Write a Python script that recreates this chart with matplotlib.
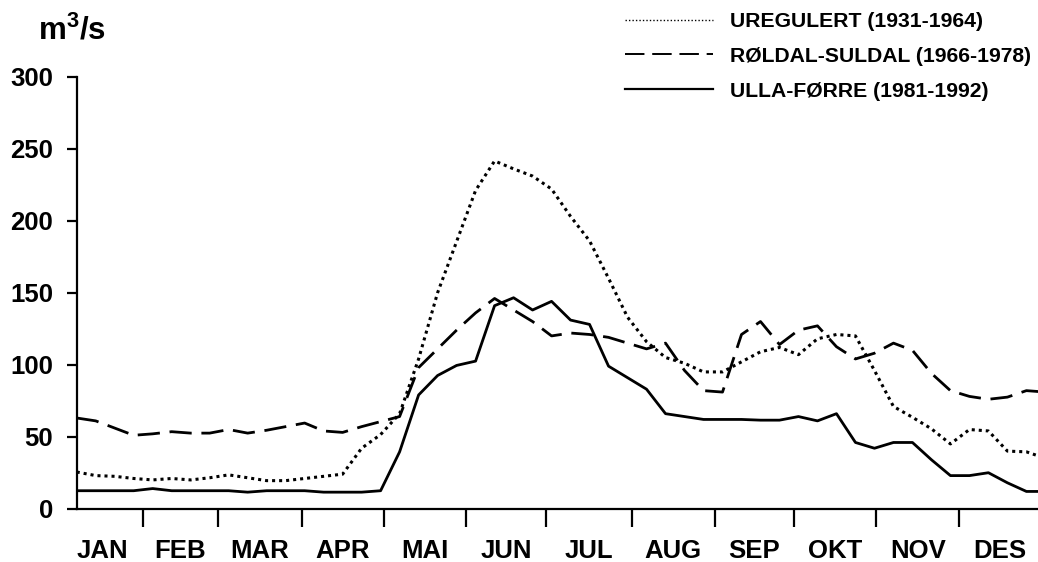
import matplotlib
matplotlib.use("Agg")
import matplotlib.pyplot as plt
from matplotlib.lines import Line2D
import numpy as np

plt.rcParams['font.family'] = ['Liberation Sans', 'DejaVu Sans']
plt.rcParams['font.weight'] = 'bold'
plt.rcParams['mathtext.fontset'] = 'custom'
plt.rcParams['mathtext.bf'] = 'Liberation Sans:bold'
plt.rcParams['mathtext.rm'] = 'Liberation Sans:bold'

# weekly mean discharge (m3/s), week 1..52
weeks = np.arange(1, 53)
uregulert = [25.5, 23, 22.5, 21, 20, 21, 20, 21.5, 23.5, 21.5, 19.5, 19.5, 21,
             22.5, 24, 42, 51.5, 66, 104, 150, 185.5, 221, 241.5, 236, 231, 222,
             203, 186, 160, 133, 116, 105, 101, 95, 95, 102, 109, 112, 107, 118,
             121, 120, 96, 71, 63.5, 55.5, 45, 55, 54, 40, 39.5, 35]
roldal = [63, 61, 56, 51, 52, 53.5, 52.5, 52.5, 55, 52.5, 54.5, 57, 59.5,
          54, 53, 57, 60.5, 64, 98, 111, 124, 136, 146, 138, 130, 120,
          122, 121, 119, 115, 111, 115, 96, 82, 81, 121, 130, 114, 124, 127,
          112.5, 104, 108, 115, 110, 94, 82, 78, 76, 77.5, 82, 81]
ulla = [12.5, 12.5, 12.5, 12.5, 14, 12.5, 12.5, 12.5, 12.5, 11.5, 12.5, 12.5, 12.5,
        11.5, 11.5, 11.5, 12.5, 39.5, 79, 92.5, 99.5, 102.5, 141, 146.5, 138, 144,
        131, 128, 99, 91, 83, 66, 64, 62, 62, 62, 61.5, 61.5, 64, 61,
        66, 46, 42, 46, 46, 34, 23, 23, 25, 18, 12, 12]

labels = ['UREGULERT (1931-1964)', 'RØLDAL-SULDAL (1966-1978)', 'ULLA-FØRRE (1981-1992)']
months = ['JAN', 'FEB', 'MAR', 'APR', 'MAI', 'JUN', 'JUL', 'AUG', 'SEP', 'OKT', 'NOV', 'DES']
# month borders in week units
borders = [0.22, 4.48, 8.45, 12.84, 17.17, 21.49, 25.70, 30.23, 34.59, 38.78, 43.08, 47.47, 51.77]

fig = plt.figure(figsize=(10.38, 5.62), dpi=100)
ax = fig.add_axes([0.0739, 0.0948, 0.9261, 0.7687])

ax.plot(weeks, uregulert, color='black', lw=2.2, linestyle=(0, (1, 1.3)))
ax.plot(weeks, roldal, color='black', lw=2.0, linestyle=(0, (8, 3.5)))
ax.plot(weeks, ulla, color='black', lw=2.0)

ax.set_xlim(1, 51.61)
ax.set_ylim(0, 300)
ax.spines['top'].set_visible(False)
ax.spines['right'].set_visible(False)
ax.spines['left'].set_linewidth(1.6)
ax.spines['bottom'].set_linewidth(1.6)

ax.set_yticks([0, 50, 100, 150, 200, 250, 300])
ax.tick_params(axis='y', direction='out', length=7.5, width=1.6, pad=9.5, labelsize=18.5)

ax.set_xticks(borders[1:-1])
ax.set_xticklabels([])
ax.tick_params(axis='x', which='major', direction='out', length=13, width=1.6)
centers = [(borders[i] + borders[i + 1]) / 2 for i in range(12)]
ax.set_xticks(centers, minor=True)
ax.set_xticklabels(months, minor=True)
ax.tick_params(axis='x', which='minor', length=0, pad=22, labelsize=18.5)

fig.text(38 / 1038, 1 - 40 / 562, r'$\mathbf{m^3/s}$', fontsize=22.5, ha='left', va='baseline')

handles = [Line2D([], [], color='black', lw=1.0, linestyle=(0, (1, 1.5))),
           Line2D([], [], color='black', lw=1.4, linestyle=(0, (10, 4))),
           Line2D([], [], color='black', lw=1.6)]
ax.legend(handles, labels, loc='upper left', bbox_to_anchor=(624.7 / 1038, 1 - 12 / 562),
          bbox_transform=fig.transFigure, frameon=False, fontsize=15.2,
          handlelength=4.2, handletextpad=0.8, labelspacing=0.75, borderpad=0, borderaxespad=0)

fig.savefig('out.png', dpi=100)
